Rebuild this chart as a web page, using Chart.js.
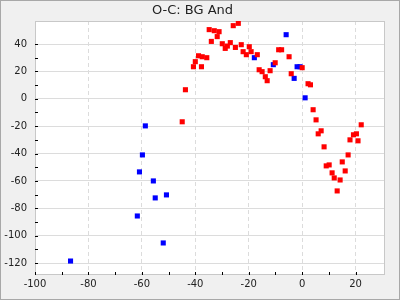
<!DOCTYPE html>
<html>
<head>
<meta charset="utf-8">
<script src="https://cdn.jsdelivr.net/npm/chart.js@4"></script>
<style>
  body { margin: 0; background: #fff; }
  canvas { display: block; }
</style>
</head>
<body>
<canvas id="chart" width="400" height="300"></canvas>
<script>
const titleText = 'O-C: BG And';

// red series (x = cycle, y = O-C)
const redX = [-44.9, -43.7, -40.7, -40.0, -38.8, -37.4, -35.7, -37.7, -34.8, -32.9, -31.1, -31.8, -34.0,
  -25.8, -23.9, -29.9, -28.8, -28.0, -26.9, -25.0, -22.8, -22.1, -20.9, -19.8, -19.1, -16.8,
  -8.8, -7.7, -4.9, -10.1, -16.1, -15.0, -12.0, -13.8, -13.1, -4.1, 0.0, 2.2, 3.1, 4.1, 5.2,
  7.1, 6.0, 8.2, 22.1, 19.2, 20.3, 17.9, 20.9, 17.2, 15.0, 16.1, 9.0, 10.1, 11.2, 12.0, 14.2, 13.1];
const redY = [-16.8, 6.6, 23.4, 27.1, 31.4, 30.7, 30.0, 23.4, 50.5, 49.7, 49.0, 45.4, 41.9,
  53.4, 55.1, 40.2, 36.8, 38.5, 41.0, 37.5, 39.5, 34.4, 32.2, 38.0, 34.4, 32.2,
  35.8, 35.8, 30.7, 26.3, 21.2, 19.8, 20.5, 16.1, 13.2, 18.3, 22.7, 11.0, 10.2, -8.0, -15.4,
  -23.4, -25.6, -35.1, -19.0, -26.3, -25.6, -30.0, -30.7, -41.0, -46.1, -52.7, -49.0, -48.3, -54.1, -57.8, -59.3, -67.3];

// blue series
const blueX = [-58.7, -59.8, -60.9, -55.7, -50.8, -55.0, -61.7, -52.0, -86.7, -6.0, -17.9, -10.8, -1.9, -0.8, -3.0, 1.1];
const blueY = [-19.8, -41.0, -53.4, -60.0, -70.2, -72.4, -85.6, -105.3, -118.5, 46.8, 30.0, 24.9, 23.4, 23.4, 14.9, 0.7];

const xMin = -100, xMax = 31;
const yMin = -128.7, yMax = 56.8;

const toPoints = (xs, ys) => xs.map((x, i) => ({ x: x, y: ys[i] }));

// only keep ticks on multiples of 10, labels on multiples of 20
function tensOnly(scale) {
  scale.ticks = scale.ticks.filter(t => Math.abs(t.value % 10) < 1e-6);
}
const isMajor = v => Math.abs(v % 20) < 1e-6;

const framePlugin = {
  id: 'frame',
  beforeDraw(chart) {
    const c = chart.ctx, a = chart.chartArea;
    c.save();
    c.fillStyle = '#f0f0f0';
    c.fillRect(0, 0, chart.width, chart.height);
    c.strokeStyle = '#a8a8a8';
    c.lineWidth = 1;
    c.strokeRect(0.5, 0.5, chart.width - 1, chart.height - 1);
    c.fillStyle = '#fff';
    c.fillRect(a.left, a.top, a.right - a.left, a.bottom - a.top);
    c.restore();
  },
  beforeDatasetsDraw(chart) {
    const c = chart.ctx, a = chart.chartArea;
    c.save();
    c.strokeStyle = '#c8c8c8';
    c.lineWidth = 1;
    c.strokeRect(Math.round(a.left) + 0.5, Math.round(a.top) + 0.5,
      Math.round(a.right - a.left) - 1, Math.round(a.bottom - a.top) - 1);
    // inward tick marks
    c.strokeStyle = '#000';
    c.beginPath();
    const xs = chart.scales.x, ys = chart.scales.y;
    xs.ticks.forEach(t => {
      const px = Math.round(xs.getPixelForValue(t.value)) + 0.5;
      c.moveTo(px, a.bottom);
      c.lineTo(px, a.bottom - 3);
    });
    ys.ticks.forEach(t => {
      const py = Math.round(ys.getPixelForValue(t.value)) + 0.5;
      c.moveTo(a.left, py);
      c.lineTo(a.left + 3, py);
    });
    c.stroke();
    c.restore();
  }
};

new Chart(document.getElementById('chart').getContext('2d'), {
  type: 'scatter',
  data: {
    datasets: [{
      label: 'red',
      data: toPoints(redX, redY),
      pointStyle: 'rect',
      radius: 3.6,
      borderWidth: 0,
      backgroundColor: '#ff0000',
      borderColor: '#ff0000'
    }, {
      label: 'blue',
      data: toPoints(blueX, blueY),
      pointStyle: 'rect',
      radius: 3.6,
      borderWidth: 0,
      backgroundColor: '#0000ff',
      borderColor: '#0000ff'
    }]
  },
  options: {
    responsive: false,
    animation: false,
    devicePixelRatio: 1,
    layout: { padding: { left: 0, right: 15, top: 0, bottom: 0 } },
    plugins: {
      legend: { display: false },
      tooltip: { enabled: false },
      title: {
        display: true,
        text: titleText,
        color: '#222',
        font: { family: 'DejaVu Sans', size: 13, weight: 'normal', lineHeight: 1.2 },
        padding: { top: 3, bottom: 2.4 }
      }
    },
    scales: {
      x: {
        type: 'linear',
        min: xMin,
        max: xMax,
        afterBuildTicks: tensOnly,
        afterFit(scale) { scale.height = 25; },
        ticks: {
          stepSize: 10,
          autoSkip: false,
          maxRotation: 0,
          padding: 3,
          color: '#222',
          font: { family: 'DejaVu Sans', size: 10 },
          callback: v => isMajor(v) ? v : ''
        },
        grid: {
          drawTicks: false,
          color: ctx => (ctx.tick && isMajor(ctx.tick.value) && ctx.tick.value > xMin) ? '#dcdcdc' : 'rgba(0,0,0,0)',
          lineWidth: 1
        },
        border: { display: false, dash: [4, 3] }
      },
      y: {
        type: 'linear',
        min: yMin,
        max: yMax,
        afterBuildTicks: tensOnly,
        afterFit(scale) { scale.width = 35; },
        ticks: {
          stepSize: 10,
          autoSkip: false,
          padding: 8,
          color: '#222',
          font: { family: 'DejaVu Sans', size: 10 },
          callback: v => isMajor(v) ? v : ''
        },
        grid: {
          drawTicks: false,
          color: ctx => (ctx.tick && isMajor(ctx.tick.value)) ? '#dcdcdc' : 'rgba(0,0,0,0)',
          lineWidth: 1
        },
        border: { display: false }
      }
    }
  },
  plugins: [framePlugin]
});
</script>
</body>
</html>
